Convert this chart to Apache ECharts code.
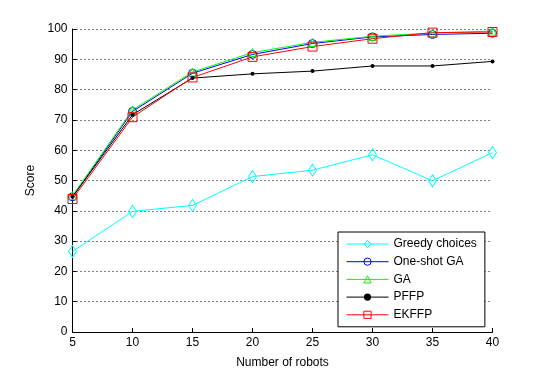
<!DOCTYPE html>
<html>
<head>
<meta charset="utf-8">
<script src="https://cdn.jsdelivr.net/npm/echarts@6/dist/echarts.min.js"></script>
<style>
  html, body { margin: 0; padding: 0; background: #fff; }
</style>
</head>
<body>
<div id="chart" style="width: 543px; height: 374px"></div>
<script>
// x轴: number of robots
var robots = [5, 10, 15, 20, 25, 30, 35, 40];
// y values for each method
var greedy = [26.6, 39.8, 41.8, 51.3, 53.4, 58.5, 49.9, 59.2];
var oneShotGA = [44.6, 72.8, 85.4, 91.6, 95.2, 97.4, 98.2, 98.6];
var ga = [45.0, 73.3, 85.8, 92.2, 95.6, 97.6, 98.7, 99.3];
var pffp = [44.6, 71.7, 83.8, 85.2, 86.1, 87.8, 87.8, 89.3];
var ekffp = [43.9, 70.9, 84.0, 90.8, 94.2, 96.8, 98.8, 99.0];

var seriesNames = ["Greedy choices", "One-shot GA", "GA", "PFFP", "EKFFP"];
var seriesColors = ["#00ffff", "#0000ff", "#00ff00", "#000000", "#ff0000"];

function pairs(ys) {
  var out = [];
  for (var i = 0; i < robots.length; i++) {
    out.push([robots[i], ys[i]]);
  }
  return out;
}

var chartDom = document.getElementById("chart");
var myChart = echarts.init(chartDom);
var font = "Liberation Sans, Arial, sans-serif";
var clear = "rgba(255,255,255,0)";

// hollow markers: "empty*" symbols are forced to 2px in echarts, so use
// filled symbols with transparent fill and a 1px border instead
function markStyle(color, filled) {
  return {
    color: filled ? color : clear,
    borderColor: color,
    borderWidth: filled ? 0 : 1,
  };
}

function line(name, ys, color, symbol, size, filled) {
  return {
    name: name,
    type: "line",
    data: pairs(ys),
    symbol: symbol,
    symbolSize: size,
    showAllSymbol: true,
    animation: false,
    lineStyle: { width: 1, color: color },
    itemStyle: markStyle(color, filled),
    emphasis: { disabled: true },
  };
}

var legendData = [];
for (var i = 0; i < seriesNames.length; i++) {
  legendData.push({
    name: seriesNames[i],
    itemStyle: markStyle(seriesColors[i], seriesNames[i] === "PFFP"),
    lineStyle: { color: seriesColors[i], width: 1 },
  });
}

var option = {
  animation: false,
  backgroundColor: "#fff",
  grid: {
    left: 72.5,
    right: 50.5,
    top: 29,
    bottom: 41.5,
  },
  legend: {
    orient: "vertical",
    left: 338,
    top: 232,
    width: 149,
    padding: [6, 8, 6, 8],
    itemWidth: 42,
    itemHeight: 9,
    itemGap: 5.7,
    backgroundColor: "#fff",
    borderColor: "#000",
    borderWidth: 1,
    data: legendData,
    textStyle: { fontFamily: font, fontSize: 12, color: "#000" },
  },
  xAxis: {
    type: "value",
    min: 5,
    max: 40,
    interval: 5,
    name: "Number of robots",
    nameLocation: "middle",
    nameGap: 25,
    nameTextStyle: { fontFamily: font, fontSize: 12, color: "#000" },
    axisLine: { show: true, lineStyle: { color: "#000", width: 1 } },
    axisTick: { show: true, inside: true, length: 4, lineStyle: { color: "#000" } },
    axisLabel: { fontFamily: font, fontSize: 12, color: "#000", margin: 5 },
    splitLine: { show: false },
  },
  yAxis: {
    type: "value",
    min: 0,
    max: 100,
    interval: 10,
    name: "Score",
    nameLocation: "middle",
    nameGap: 34,
    nameTextStyle: { fontFamily: font, fontSize: 12, color: "#000" },
    axisLine: { show: true, lineStyle: { color: "#000", width: 1 } },
    axisTick: { show: true, inside: true, length: 4, lineStyle: { color: "#000" } },
    axisLabel: { fontFamily: font, fontSize: 12, color: "#000", margin: 5 },
    splitLine: {
      show: true,
      lineStyle: { color: "#000", width: 1, type: [1, 3] },
    },
  },
  series: [
    line(seriesNames[0], greedy, seriesColors[0], "diamond", [8, 12], false),
    line(seriesNames[1], oneShotGA, seriesColors[1], "circle", 8, false),
    line(seriesNames[2], ga, seriesColors[2], "triangle", 8, false),
    line(seriesNames[3], pffp, seriesColors[3], "circle", 4, true),
    line(seriesNames[4], ekffp, seriesColors[4], "rect", 9, false),
  ],
};

option && myChart.setOption(option);
</script>
</body>
</html>
